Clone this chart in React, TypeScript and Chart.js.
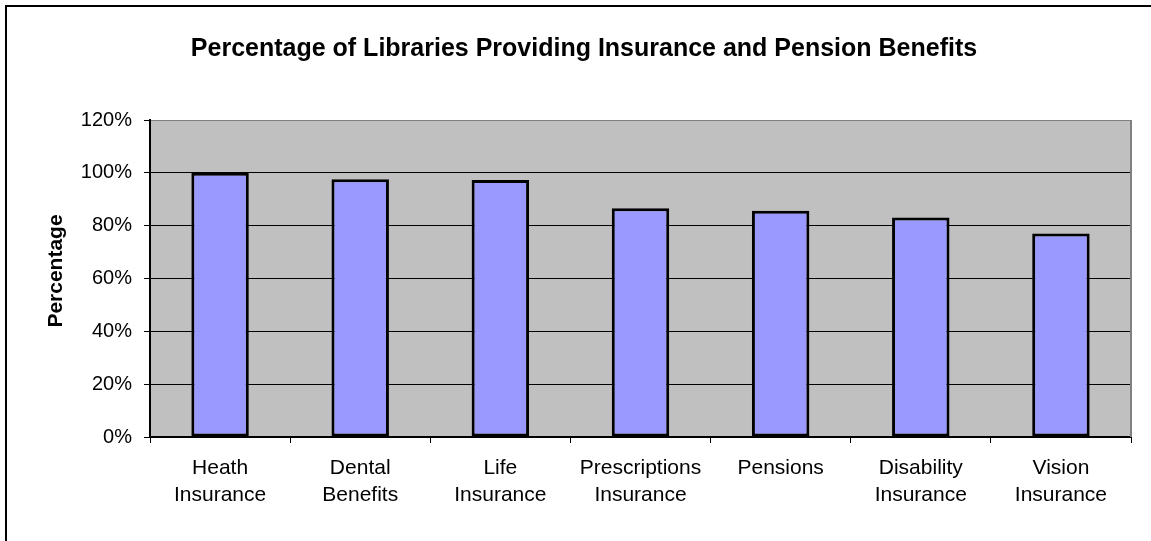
import React, { useEffect, useRef } from "react";
import { Chart, registerables } from "chart.js";

Chart.register(...registerables);

const chartTitle = "Percentage of Libraries Providing Insurance and Pension Benefits";
const yAxisTitle = "Percentage";
const categories: string[][] = [
  ["Heath", "Insurance"],
  ["Dental", "Benefits"],
  ["Life", "Insurance"],
  ["Prescriptions", "Insurance"],
  ["Pensions"],
  ["Disability", "Insurance"],
  ["Vision", "Insurance"],
];
const percentValues: number[] = [100, 97.6, 97.3, 86.6, 85.6, 83.1, 77.0];
const yTickMax = 120;
const yTickStep = 20;

const FONT = "'Liberation Sans', Arial, sans-serif";

const decorPlugin = {
  id: "decor",
  beforeDraw(chart: any) {
    const { ctx, chartArea } = chart;
    ctx.save();
    ctx.fillStyle = "#C0C0C0";
    ctx.fillRect(chartArea.left, chartArea.top, chartArea.right - chartArea.left, chartArea.bottom - chartArea.top);
    ctx.restore();
  },
  afterDraw(chart: any) {
    const { ctx, chartArea } = chart;
    ctx.save();
    ctx.strokeStyle = "#808080";
    ctx.lineWidth = 2;
    ctx.beginPath();
    ctx.moveTo(chartArea.right, chartArea.top);
    ctx.lineTo(chartArea.right, chartArea.bottom);
    ctx.stroke();

    ctx.fillStyle = "#000";
    ctx.font = `bold 25px ${FONT}`;
    ctx.textAlign = "center";
    ctx.textBaseline = "middle";
    ctx.fillText(chartTitle, 584, 49);

    ctx.translate(56, 271);
    ctx.rotate(-Math.PI / 2);
    ctx.font = `bold 21px ${FONT}`;
    ctx.fillText(yAxisTitle, 0, 0);
    ctx.restore();
  },
};

export default function App() {
  const canvasRef = useRef<HTMLCanvasElement | null>(null);

  useEffect(() => {
    if (!canvasRef.current) return;
    const chart = new Chart(canvasRef.current, {
      type: "bar",
      data: {
        labels: categories,
        datasets: [
          {
            data: percentValues,
            backgroundColor: "#9999FF",
            borderColor: "#000000",
            borderWidth: 3,
            borderSkipped: false,
            categoryPercentage: 1,
            barPercentage: 0.41,
          },
        ],
      },
      options: {
        responsive: false,
        animation: false,
        layout: { padding: { top: 120, right: 20, left: 0, bottom: 0 } },
        plugins: {
          legend: { display: false },
          title: { display: false },
          tooltip: { enabled: false },
        },
        scales: {
          x: {
            offset: true,
            afterFit: (scale: any) => {
              scale.height = 104;
            },
            grid: {
              offset: true,
              drawOnChartArea: false,
              drawTicks: true,
              tickLength: 6,
              color: "#000",
              tickColor: "#000",
            },
            border: { display: true, color: "#000", width: 2 },
            ticks: {
              color: "#000",
              font: { family: FONT, size: 21, lineHeight: 1.29 },
              padding: 12,
              maxRotation: 0,
              autoSkip: false,
            },
          },
          y: {
            min: 0,
            max: yTickMax,
            afterFit: (scale: any) => {
              scale.width = 150;
            },
            grid: {
              drawTicks: true,
              tickLength: 6,
              lineWidth: 1,
              color: (ctx: any) => (ctx.tick && ctx.tick.value === yTickMax ? "#808080" : "#000"),
              tickColor: "#000",
            },
            border: { display: true, color: "#000", width: 2 },
            ticks: {
              stepSize: yTickStep,
              color: "#000",
              font: { family: FONT, size: 20 },
              padding: 12,
              callback: (v: any) => `${v}%`,
            },
          },
        },
      },
      plugins: [decorPlugin],
    });
    return () => chart.destroy();
  }, []);

  return (
    <div style={{ position: "fixed", left: 0, top: 0, width: 1151, height: 541, overflow: "hidden", background: "#fff" }}>
      <canvas ref={canvasRef} width={1151} height={541} style={{ position: "absolute", left: 0, top: 0 }} />
      <div
        style={{
          position: "absolute",
          left: 5,
          top: 5,
          width: 1200,
          height: 600,
          borderLeft: "2px solid #000",
          borderTop: "2px solid #000",
          pointerEvents: "none",
        }}
      />
    </div>
  );
}
